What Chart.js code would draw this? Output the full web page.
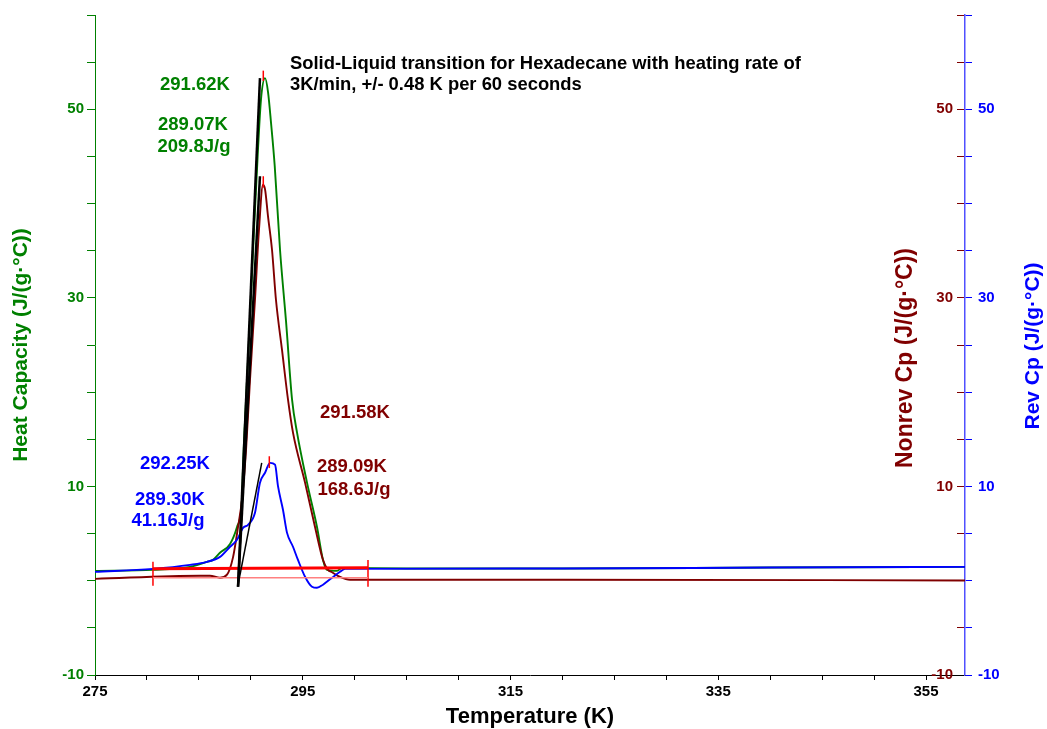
<!DOCTYPE html>
<html>
<head>
<meta charset="utf-8">
<title>Hexadecane solid-liquid transition</title>
<script src="https://cdn.jsdelivr.net/npm/chart.js@4/dist/chart.umd.min.js"></script>
<style>
  html, body { margin: 0; padding: 0; background: #ffffff; }
  #wrap { width: 1047px; height: 729px; }
</style>
</head>
<body>
<div id="wrap"><canvas id="chart" width="1047" height="729"></canvas></div>
<script>
// ---- Measured series (temperature in K, heat capacity in J/(g·°C)) ----
const heatCapT = [275, 280.58, 284.15, 285.78, 286.36, 287.03, 288.0, 288.67, 289.15, 289.25, 289.54, 289.92,
  290.31, 290.69, 290.98, 291.37, 291.66, 291.95, 292.3, 292.81, 293.39, 293.97, 294.45, 295.41, 296.37,
  296.95, 297.33, 298.3, 298.78, 305, 320, 340, 358.75];
const heatCapV = [1.04, 1.15, 1.47, 2.0, 2.21, 2.96, 3.9, 5.7, 8.6, 12.1, 19.2, 27.7,
  37.3, 45.75, 51.06, 53.3, 51.8, 48.5, 44.0, 35.1, 27.5, 19.2, 15.7, 10.4, 5.7,
  2.2, 1.15, 1.04, 1.36, 1.3, 1.3, 1.4, 1.47];

const nonrevT = [275, 285.11, 286.07, 287.03, 287.71, 288.29, 288.77, 289.15, 289.54, 289.92, 290.4, 290.79,
  291.17, 291.37, 291.66, 292.04, 292.42, 293.0, 293.58, 294.06, 295.22, 296.18, 296.95, 297.43, 297.82,
  298.59, 299.55, 320, 358.75];
const nonrevV = [0.2, 0.53, 0.53, 0.32, 0.64, 2.5, 5.7, 8.6, 13.9, 21.3, 29.8, 37.3,
  42.0, 41.5, 38.6, 35.1, 29.8, 24.5, 19.2, 15.7, 10.4, 5.7, 2.2, 1.15, 0.9,
  0.4, 0.1, 0.1, 0.03];

const revT = [275, 280.58, 284.15, 285.78, 287.03, 288.0, 288.67, 289.25, 289.73, 290.4, 290.88, 291.37,
  291.85, 292.33, 292.62, 293.1, 293.48, 294.06, 294.54, 295.22, 295.89, 296.37, 296.95, 297.82, 298.59,
  299.07, 320, 340, 358.75];
const revV = [0.94, 1.26, 1.68, 2.0, 2.53, 3.6, 4.34, 5.6, 5.93, 7.2, 10.4, 11.45,
  12.5, 12.3, 10.0, 7.5, 5.1, 3.6, 2.2, 0.42, -0.64, -0.75, -0.42, 0.32, 0.95,
  1.26, 1.3, 1.4, 1.47];

// ---- Analysis constructions: onset tangents, integration baselines, peak marks ----
const onsetHeatCapT = [288.77, 290.88];
const onsetHeatCapV = [-0.64, 53.3];
const onsetNonrevT = [288.77, 290.88];
const onsetNonrevV = [-0.64, 42.9];
const onsetRevT = [288.77, 291.05];
const onsetRevV = [-0.43, 12.5];

const baselineT = [280.58, 301.28];
const baselineV = [1.26, 1.38];
const nonrevBaselineV = [0.32, 0.32];
const limitLeftT = [280.58, 280.58];
const limitLeftV = [-0.53, 2.0];
const limitRightT = [301.28, 301.28];
const limitRightV = [-0.64, 2.2];

const peakHeatCapT = [291.2, 291.2];
const peakHeatCapV = [53.0, 54.1];
const peakNonrevT = [291.2, 291.2];
const peakNonrevV = [41.7, 42.9];
const peakRevT = [291.78, 291.78];
const peakRevV = [11.95, 13.2];

// ---- Axis tick labels and text ----
const xTickLabels = [275, 295, 315, 335, 355];
const yTickLabels = [-10, 10, 30, 50];
const titleLines = ['Solid-Liquid transition for Hexadecane with heating rate of',
                    '3K/min, +/- 0.48 K per 60 seconds'];
const heatCapResults = ['291.62K', '289.07K', '209.8J/g'];
const nonrevResults = ['291.58K', '289.09K', '168.6J/g'];
const revResults = ['292.25K', '289.30K', '41.16J/g'];

const FONT = "'Liberation Sans', Arial, Helvetica, sans-serif";
const GREEN = '#008000';
const DARKRED = '#800000';
const BLUE = '#0000ff';

function pts(xs, ys) { return xs.map((x, i) => ({ x: x, y: ys[i] })); }

function lineSet(label, xs, ys, color, width, axis, order, smooth) {
  return {
    label: label,
    data: pts(xs, ys),
    borderColor: color,
    backgroundColor: color,
    borderWidth: width,
    pointRadius: 0,
    fill: false,
    yAxisID: axis,
    order: order,
    cubicInterpolationMode: smooth ? 'monotone' : 'default',
    tension: 0
  };
}

// Free text: chart heading, analysis results and the right-hand axis titles
const textPlugin = {
  id: 'textLayer',
  afterDraw(chart) {
    const ctx = chart.ctx;
    ctx.save();
    ctx.textBaseline = 'middle';

    ctx.font = 'bold 18.4px ' + FONT;
    ctx.fillStyle = '#000000';
    ctx.textAlign = 'left';
    ctx.fillText(titleLines[0], 290, 64);
    ctx.fillText(titleLines[1], 290, 85);

    ctx.font = 'bold 18.5px ' + FONT;
    ctx.textAlign = 'center';
    const blocks = [
      { lines: heatCapResults, color: GREEN, xs: [195, 193, 194], ys: [85, 125, 147] },
      { lines: nonrevResults, color: DARKRED, xs: [355, 352, 354], ys: [413, 467, 490] },
      { lines: revResults, color: BLUE, xs: [175, 170, 168], ys: [464, 500, 521] }
    ];
    blocks.forEach(b => {
      ctx.fillStyle = b.color;
      b.lines.forEach((t, i) => ctx.fillText(t, b.xs[i], b.ys[i]));
    });

    const vtitle = (text, color, size, x, y) => {
      ctx.save();
      ctx.font = 'bold ' + size + 'px ' + FONT;
      ctx.translate(x, y);
      ctx.rotate(-Math.PI / 2);
      ctx.fillStyle = color;
      ctx.textAlign = 'center';
      ctx.fillText(text, 0, 0);
      ctx.restore();
    };
    vtitle('Nonrev Cp (J/(g·°C))', DARKRED, 23, 906, 358);
    vtitle('Rev Cp (J/(g·°C))', BLUE, 21, 1033, 346);
    ctx.restore();
  }
};

const tickFont = { family: FONT, size: 15, weight: 'bold' };
const pick = list => v => (list.includes(Math.round(v)) ? String(Math.round(v)) : '');

const chart = new Chart(document.getElementById('chart'), {
  type: 'line',
  data: {
    datasets: [
      lineSet('Onset (Heat Capacity)', onsetHeatCapT, onsetHeatCapV, '#000000', 2.5, 'y', 0, false),
      lineSet('Onset (Nonrev Cp)', onsetNonrevT, onsetNonrevV, '#000000', 2.5, 'yNon', 0, false),
      lineSet('Onset (Rev Cp)', onsetRevT, onsetRevV, '#000000', 1.5, 'yRev', 0, false),
      lineSet('Peak (Heat Capacity)', peakHeatCapT, peakHeatCapV, '#ff0000', 1.5, 'y', 1, false),
      lineSet('Peak (Nonrev Cp)', peakNonrevT, peakNonrevV, '#ff0000', 1.5, 'yNon', 1, false),
      lineSet('Peak (Rev Cp)', peakRevT, peakRevV, '#ff0000', 1.5, 'yRev', 1, false),
      lineSet('Baseline', baselineT, baselineV, '#ff0000', 3, 'y', 2, false),
      lineSet('Baseline (Nonrev Cp)', baselineT, nonrevBaselineV, '#ff8080', 1.5, 'yNon', 2, false),
      lineSet('Limit left', limitLeftT, limitLeftV, '#ff0000', 1.5, 'y', 2, false),
      lineSet('Limit right', limitRightT, limitRightV, '#ff0000', 1.5, 'y', 2, false),
      lineSet('Rev Cp', revT, revV, BLUE, 1.9, 'yRev', 3, true),
      lineSet('Nonrev Cp', nonrevT, nonrevV, DARKRED, 1.9, 'yNon', 4, true),
      lineSet('Heat Capacity', heatCapT, heatCapV, GREEN, 1.9, 'y', 5, true)
    ]
  },
  options: {
    responsive: false,
    animation: false,
    devicePixelRatio: 1,
    layout: { padding: { top: 15, left: 0, right: 0, bottom: 0 } },
    plugins: { legend: { display: false }, tooltip: { enabled: false } },
    scales: {
      x: {
        type: 'linear',
        position: 'bottom',
        min: 275,
        max: 358.75,
        afterFit: s => { s.height = 54; },
        ticks: { stepSize: 5, includeBounds: false, autoSkip: false, maxRotation: 0,
                 color: '#000000', font: tickFont, padding: 3, callback: pick(xTickLabels) },
        grid: { drawOnChartArea: false, tickLength: 5, color: '#000000' },
        border: { color: '#000000', width: 1 },
        title: { display: true, text: 'Temperature (K)', color: '#000000',
                 font: { family: FONT, size: 22, weight: 'bold', lineHeight: 1.1 },
                 padding: { top: 0, bottom: 0 } }
      },
      y: {
        type: 'linear',
        position: 'left',
        min: -10,
        max: 60,
        afterFit: s => { s.width = 95; },
        ticks: { stepSize: 5, includeBounds: false, autoSkip: false, color: GREEN, font: tickFont,
                 padding: 3, callback: pick(yTickLabels) },
        grid: { drawOnChartArea: false, tickLength: 8, color: GREEN },
        border: { color: GREEN, width: 1 },
        title: { display: true, text: 'Heat Capacity (J/(g·°C))', color: GREEN,
                 font: { family: FONT, size: 21, weight: 'bold', lineHeight: 1.2 },
                 padding: { top: 9, bottom: 0 } }
      },
      yNon: {
        type: 'linear',
        position: 'right',
        weight: 0,
        min: -10,
        max: 60,
        afterFit: s => { s.width = 0; },
        ticks: { stepSize: 5, includeBounds: false, autoSkip: false, mirror: true, color: DARKRED,
                 font: tickFont, padding: -12, callback: pick(yTickLabels) },
        grid: { drawOnChartArea: false, tickLength: -8, color: DARKRED },
        border: { display: false }
      },
      yRev: {
        type: 'linear',
        position: 'right',
        weight: 1,
        min: -10,
        max: 60,
        afterFit: s => { s.width = 82; },
        ticks: { stepSize: 5, includeBounds: false, autoSkip: false, color: BLUE, font: tickFont,
                 padding: 6, callback: pick(yTickLabels) },
        grid: { drawOnChartArea: false, tickLength: 7, color: BLUE },
        border: { color: '#5050ff', width: 1.5 }
      }
    }
  },
  plugins: [textPlugin]
});
</script>
</body>
</html>
